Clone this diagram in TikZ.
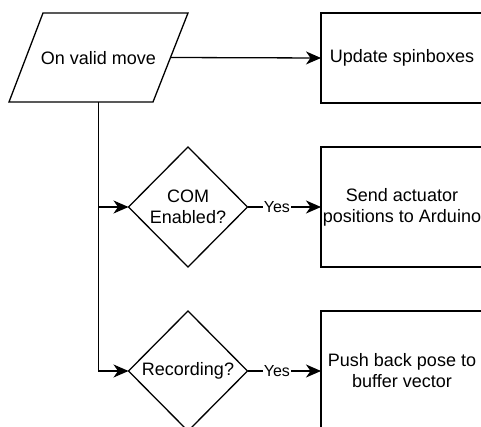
\documentclass[tikz,border=0pt]{standalone}
\usepackage{fontspec}
\setmainfont{Liberation Sans}
\usetikzlibrary{arrows.meta,shapes.geometric}
\usetikzlibrary{calc}

\begin{document}
\begin{tikzpicture}[x=1pt,y=-1pt,
		line width=1.3pt,
		font=\fontsize{18}{21}\selectfont,
		flow/.style={-{Stealth[length=15pt,width=13pt,inset=4.5pt]}},
		process/.style={draw,rectangle,minimum width=162pt,align=center,inner sep=0pt,outer sep=0pt},
		decision/.style={draw,diamond,aspect=1,minimum width=119pt,minimum height=120pt,align=center,inner sep=0pt,outer sep=0pt},
		answer/.style={fill=white,inner sep=1pt,font=\fontsize{16}{19}\selectfont}]
	
	\useasboundingbox (0,0) rectangle (481,427);
	
	% Event (parallelogram drawn by hand)
	\coordinate (tl) at (43,13);
	\coordinate (tr) at (188,13);
	\coordinate (br) at (153,102);
	\coordinate (bl) at (9,102);
	\draw (tl) -- (tr) -- (br) -- (bl) -- cycle;
	\node (move) at (98.5,58) {On valid move};
	\coordinate (move-out) at ($(tr)!0.5!(br)$);
	\coordinate (split) at (move |- bl);
	
	% Actions on the right
	\node[process,minimum height=90pt]  (spin) at (402,58)  {Update spinboxes};
	\node[process,minimum height=120pt] (send) at (402,207) {Send actuator\\positions to Arduino};
	\node[process,minimum height=120pt] (push) at (402,371) {Push back pose to\\buffer vector};
	
	% Checks
	\node[decision] (com) at (188,207) {COM\\Enabled?};
	\node[decision] (rec) at (188,371) {Recording?};
	
	% Connectors
	\draw[flow] (move-out) -- (spin.west);
	\draw[flow] (split) -- (split |- rec.west) -- (rec.west);
	\draw[flow] (split |- com.west) -- (com.west);
	\draw[flow] (com.east) -- node[answer,pos=0.4] {Yes} (send.west);
	\draw[flow] (rec.east) -- node[answer,pos=0.4] {Yes} (push.west);
	
\end{tikzpicture}
\end{document}
